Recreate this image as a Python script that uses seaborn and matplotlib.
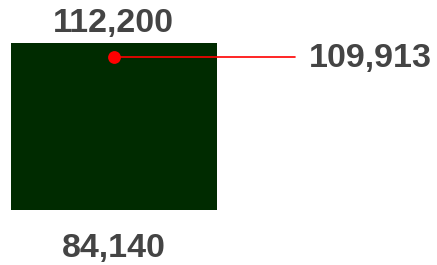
import matplotlib
matplotlib.use("Agg")
import matplotlib.pyplot as plt
import seaborn as sns
import pandas as pd

# Data
category = ["Range"]
high_values = [112200]
low_values = [84140]
marker_values = [109913]
high_labels = ["112,200"]
low_labels = ["84,140"]
marker_labels = ["109,913"]

sns.set_style("white")
plt.rcParams['font.family'] = ['Liberation Sans', 'DejaVu Sans']

W, H = 437, 265
fig = plt.figure(figsize=(W / 100, H / 100), dpi=100)
left_px, right_px, top_px, bot_px = 10.7, 217, 43, 210
ax = fig.add_axes([left_px / W, (H - bot_px) / H, (right_px - left_px) / W, (bot_px - top_px) / H])

df = pd.DataFrame({"cat": category, "high": high_values})
sns.barplot(data=df, x="cat", y="high", color="#002b00", saturation=1, width=1.0, ax=ax,
            edgecolor="none", linewidth=0)
ax.set_xlim(-0.5, 0.5)
ax.set_ylim(low_values[0], high_values[0])

# marker and leader line
line_end_x = (295 - left_px) / (right_px - left_px) - 0.5
ax.plot([0, line_end_x], [marker_values[0], marker_values[0]], color="#ff0000", lw=1.2,
        clip_on=False, zorder=3)
sns.scatterplot(x=[0], y=marker_values, color="#ff0000", s=85, ax=ax, linewidth=0,
                zorder=4, clip_on=False)

txt = dict(fontsize=24.5, fontweight="bold", color="#444444", annotation_clip=False)
ax.annotate(high_labels[0], xy=(0, high_values[0]), xytext=(0, 20 * 0.72), textcoords="offset points",
            ha="center", va="center", **txt)
ax.annotate(low_labels[0], xy=(0, low_values[0]), xytext=(0, -38 * 0.72), textcoords="offset points",
            ha="center", va="center", **txt)
ax.annotate(marker_labels[0], xy=(line_end_x, marker_values[0]), xytext=(14 * 0.72, -2 * 0.72),
            textcoords="offset points", ha="left", va="center", **txt)

ax.set_axis_off()
fig.savefig("out.png", dpi=100, facecolor="white")
